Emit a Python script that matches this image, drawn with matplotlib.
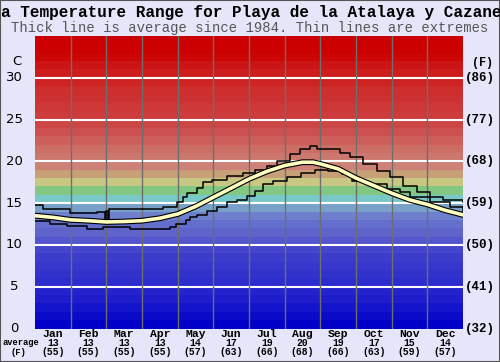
import matplotlib
matplotlib.use("Agg")
import matplotlib.pyplot as plt
import matplotlib.patheffects as pe
import numpy as np

# month axis runs 0..12, one unit per month
months = ['Jan', 'Feb', 'Mar', 'Apr', 'May', 'Jun', 'Jul', 'Aug', 'Sep', 'Oct', 'Nov', 'Dec']
avg_c = [13, 13, 13, 13, 14, 17, 19, 20, 19, 17, 15, 14]
avg_f = [55, 55, 55, 55, 57, 63, 66, 68, 66, 63, 59, 57]

# average sea temperature (smooth thick line)
avg_x = [0.0, 0.5, 1.0, 1.5, 2.0, 2.5, 3.0, 3.5, 4.0, 4.5, 5.0, 5.5, 6.0, 6.5,
         7.0, 7.5, 7.8, 8.0, 8.5, 9.0, 9.5, 10.0, 10.5, 11.0, 11.5, 12.0]
avg_t = [13.5, 13.3, 13.0, 12.9, 12.75, 12.8, 12.9, 13.2, 13.7, 14.6, 15.7, 16.8, 17.9, 18.8,
         19.5, 19.9, 19.9, 19.7, 19.1, 18.0, 17.1, 16.2, 15.4, 14.85, 14.15, 13.6]

# highest recorded (step line)
max_x = [0.0, 0.22, 0.98, 1.74, 1.96, 1.98, 2.05, 2.07, 2.95, 3.6, 3.98, 4.15, 4.26, 4.54,
         4.71, 4.96, 5.38, 5.83, 6.17, 6.5, 6.784, 7.15, 7.43, 7.71, 7.91, 8.55, 8.83,
         9.2, 9.59, 9.95, 10.32, 10.71, 11.07, 11.43, 12.0]
max_t = [14.75, 14.25, 13.85, 13.9, 12.7, 14.1, 12.9, 14.25, 14.35, 14.6, 15.1, 15.7, 16.2, 16.8,
         17.5, 17.8, 18.2, 18.6, 19.0, 19.5, 20.1, 20.9, 21.5, 21.8, 21.5, 21.0, 20.5,
         19.7, 18.9, 18.1, 17.1, 16.3, 15.7, 15.35, 15.15]

# lowest recorded (step line)
min_x = [0.0, 0.42, 0.90, 1.46, 1.90, 2.66, 3.78, 3.95, 4.23, 4.35, 4.54, 4.82, 5.1,
         5.38, 5.66, 5.94, 6.17, 6.39, 6.67, 7.07, 7.46, 7.85, 8.21, 8.6, 8.89, 9.27,
         9.87, 10.23, 10.51, 11.07, 11.63, 12.0]
min_t = [12.85, 12.55, 12.25, 11.95, 12.15, 11.95, 12.1, 12.5, 13.0, 13.3, 13.55, 14.1, 14.6,
         15.15, 15.35, 15.9, 16.5, 17.3, 17.7, 18.1, 18.6, 19.0, 18.85, 18.45, 17.7, 17.3,
         16.75, 16.3, 15.75, 15.15, 14.6, 13.55]

# colour of each 1 degree band, from 0 C upwards
band_rgb = [(0, 0, 200), (10, 10, 200), (20, 20, 205), (30, 30, 205), (35, 35, 205),
            (45, 45, 205), (50, 50, 205), (55, 55, 205), (60, 60, 205), (70, 70, 205),
            (85, 85, 205), (95, 100, 205), (100, 110, 205), (110, 128, 205), (120, 160, 200),
            (120, 200, 200), (130, 200, 130), (200, 200, 130), (200, 160, 120), (205, 130, 120),
            (205, 120, 110), (205, 110, 100), (205, 95, 90), (205, 80, 80), (205, 70, 70),
            (205, 60, 60), (205, 55, 55), (205, 50, 50), (205, 45, 45), (205, 35, 35),
            (205, 30, 30), (205, 20, 20), (204, 5, 5), (204, 0, 0), (204, 0, 0)]

bg = '#e6e6fa'
fig = plt.figure(figsize=(5, 3.62), dpi=100, facecolor=bg)
ax = fig.add_axes([0.07, 0.0925, 0.856, 0.808])

for i, c in enumerate(band_rgb):
    ax.axhspan(i, i + 1, color=np.array(c) / 255.0, lw=0, zorder=0)

for t in range(5, 35, 5):
    ax.axhline(t, color='white', lw=1.5, zorder=1)
for m in range(1, 12):
    ax.axvline(m, color='#6e6e6e', lw=1, zorder=1)

ax.step(max_x, max_t, where='post', color='black', lw=1.1, zorder=3)
ax.step(min_x, min_t, where='post', color='black', lw=1.1, zorder=3)
ax.plot(avg_x, avg_t, color='#ffffc0', lw=2.6, zorder=4,
        path_effects=[pe.Stroke(linewidth=4.2, foreground='black'), pe.Normal()])

ax.set_xlim(0, 12)
ax.set_ylim(0, 35)
ax.set_xticks([])
ax.set_yticks([])
for s in ax.spines.values():
    s.set_visible(False)

mono = 'Liberation Mono'
# left celsius scale
for t in range(0, 35, 5):
    ax.text(-0.58, t, str(t), ha='center', va='center', fontsize=9.5,
            family='DejaVu Sans', color='black')
ax.text(-0.52, 32.0, 'C', ha='center', va='center', fontsize=9.5, family='DejaVu Sans')
# right fahrenheit scale
for t in range(0, 35, 5):
    ax.text(12.05, t, '(%d)' % round(t * 9 / 5 + 32), ha='left', va='center',
            fontsize=9, family=mono, weight='bold')
ax.text(12.25, 31.8, '(F)', ha='left', va='center', fontsize=8.5, family=mono, weight='bold')

# month labels and averages
for i, name in enumerate(months):
    ax.text(i + 0.5, -0.6, name, ha='center', va='center', fontsize=8.2,
            family=mono, weight='bold')
    ax.text(i + 0.5, -1.7, str(avg_c[i]), ha='center', va='center', fontsize=7,
            family=mono, weight='bold')
    ax.text(i + 0.5, -2.82, '(%d)' % avg_f[i], ha='center', va='center', fontsize=7,
            family=mono, weight='bold')
ax.text(-0.4, -1.7, 'average', ha='center', va='center', fontsize=6.3, family=mono, weight='bold')
ax.text(-0.46, -2.82, '(F)', ha='center', va='center', fontsize=6.3, family=mono, weight='bold')

fig.text(0.002, 0.966, 'a Temperature Range for Playa de la Atalaya y Cazane',
         ha='left', va='center', fontsize=11.5, family=mono, weight='bold')
fig.text(0.5, 0.922, 'Thick line is average since 1984. Thin lines are extremes',
         ha='center', va='center', fontsize=10, family=mono, color='#555555')

fig.patches.append(plt.Rectangle((0, 0), 1, 1, transform=fig.transFigure, fill=False,
                                 edgecolor='#555555', lw=1.5))

fig.savefig('out.png', dpi=100, facecolor=bg)
